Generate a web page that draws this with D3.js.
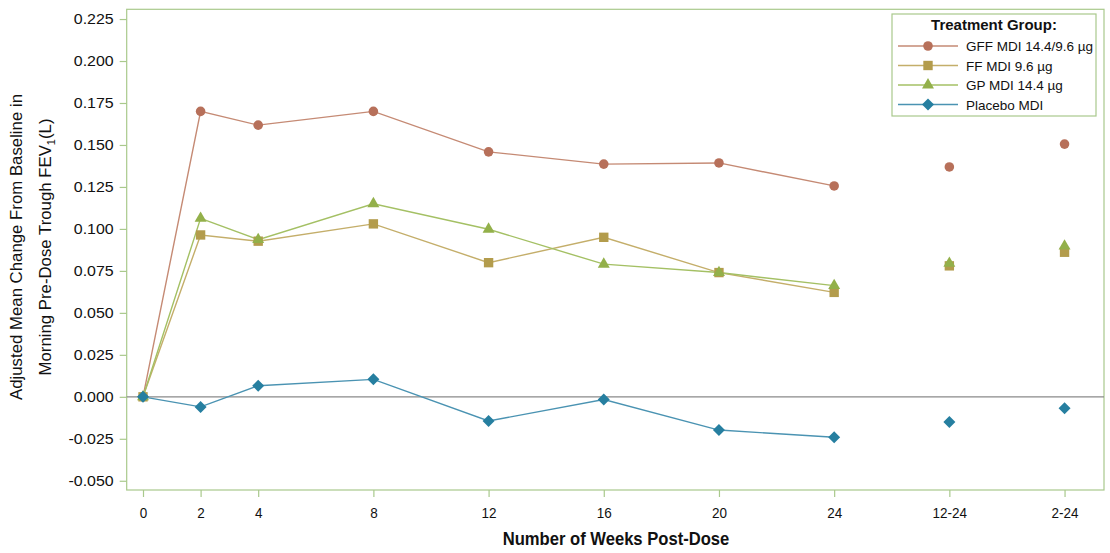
<!DOCTYPE html>
<html>
<head>
<meta charset="utf-8">
<script src="https://cdn.jsdelivr.net/npm/d3@7"></script>
<style>
  html, body { margin: 0; padding: 0; background: #fff; }
  svg { display: block; font-family: "Liberation Sans", Arial, sans-serif; }
</style>
</head>
<body>
<svg id="chart" width="1110" height="553"></svg>
<script>
// Visit labels along the x axis and their positions in weeks
const visitLabels = ["0", "2", "4", "8", "12", "16", "20", "24", "12-24", "2-24"];
const visitPos    = [0, 2, 4, 8, 12, 16, 20, 24, 28, 32];
// Visits joined by a line (the two summary periods are drawn as lone points)
const connectedCount = 8;

const yTicks = [-0.050, -0.025, 0.000, 0.025, 0.050, 0.075, 0.100, 0.125, 0.150, 0.175, 0.200, 0.225];

const seriesNames = ["GFF MDI 14.4/9.6 \u00b5g", "FF MDI 9.6 \u00b5g", "GP MDI 14.4 \u00b5g", "Placebo MDI"];

const gffValues     = [0, 0.1700, 0.1618, 0.1700, 0.1459, 0.1386, 0.1393, 0.1256, 0.1369, 0.1505];
const ffValues      = [0, 0.0964, 0.0927, 0.1030, 0.0799, 0.0950, 0.0740, 0.0622, 0.0780, 0.0861];
const gpValues      = [0, 0.1063, 0.0936, 0.1150, 0.0998, 0.0790, 0.0740, 0.0662, 0.0795, 0.0898];
const placeboValues = [0, -0.0060, 0.0066, 0.0104, -0.0144, -0.0016, -0.0198, -0.0241, -0.0150, -0.0068];

const seriesValues = [gffValues, ffValues, gpValues, placeboValues];
const markerColors = ["#b7705a", "#b39c4c", "#93b04a", "#267fa0"];
const lineColors   = ["#c58a74", "#c4ae6a", "#a4c064", "#4a93b2"];

// Marker shapes; the diamond is a square turned 45 degrees
const markerShapes = [
  { type: d3.symbolCircle,   size: 72, rotate: 0 },
  { type: d3.symbolSquare,   size: 88, rotate: 0 },
  { type: d3.symbolTriangle, size: 62, rotate: 0 },
  { type: d3.symbolSquare,   size: 72, rotate: 45 }
];

const svg = d3.select("#chart");
const frame = { left: 126.7, right: 1104, top: 9.3, bottom: 490 };

const x = d3.scaleLinear().domain([-0.566, 33.37]).range([frame.left, frame.right]);
const y = d3.scaleLinear().domain([-0.0555, 0.2308]).range([frame.bottom, frame.top]);

const frameColor = "#a9c98c";

function marker(sel, s) {
  const m = markerShapes[s];
  return sel.attr("d", d3.symbol().type(m.type).size(m.size)).attr("fill", markerColors[s]);
}

// Plot frame
svg.append("rect")
  .attr("x", frame.left).attr("y", frame.top)
  .attr("width", frame.right - frame.left).attr("height", frame.bottom - frame.top)
  .attr("fill", "none").attr("stroke", frameColor).attr("stroke-width", 1.2);

// Y axis (labels slightly widened)
const yAxis = svg.append("g")
  .attr("transform", `translate(${frame.left},0)`)
  .call(d3.axisLeft(y).tickValues(yTicks).tickFormat(d3.format(".3f")).tickSize(7).tickPadding(5));
yAxis.select(".domain").remove();
yAxis.selectAll(".tick line").attr("stroke", frameColor).attr("stroke-width", 1.2);
yAxis.selectAll(".tick text")
  .attr("fill", "#111").style("font-size", "14.5px")
  .attr("x", null).attr("transform", "translate(-13,0) scale(1.1,1)")
  .text(d => d3.format(".3f")(d).replace("\u2212", "-"));

// X axis
const xAxis = svg.append("g")
  .attr("transform", `translate(0,${frame.bottom})`)
  .call(d3.axisBottom(x).tickValues(visitPos)
    .tickFormat((d, i) => visitLabels[i]).tickSize(7).tickPadding(9));
xAxis.select(".domain").remove();
xAxis.selectAll(".tick line").attr("stroke", frameColor).attr("stroke-width", 1.2);
xAxis.selectAll(".tick text")
  .attr("fill", "#111").style("font-size", "15px")
  .attr("y", 0).attr("dy", null)
  .attr("transform", "translate(0,28) scale(0.9,1)");

// Zero reference line
svg.append("line")
  .attr("x1", frame.left).attr("x2", frame.right)
  .attr("y1", y(0)).attr("y2", y(0))
  .attr("stroke", "#8a8a8a").attr("stroke-width", 1.3);

// Series lines and markers
const plot = svg.append("g");
seriesValues.forEach((vals, s) => {
  const pts = vals.map((v, i) => ({ x: visitPos[i], y: v }));
  plot.append("path")
    .datum(pts.slice(0, connectedCount))
    .attr("d", d3.line().x(d => x(d.x)).y(d => y(d.y)))
    .attr("fill", "none").attr("stroke", lineColors[s]).attr("stroke-width", 1.4);
});
seriesValues.forEach((vals, s) => {
  const pts = vals.map((v, i) => ({ x: visitPos[i], y: v }));
  plot.selectAll(null).data(pts).enter().append("path")
    .attr("transform", d => `translate(${x(d.x)},${y(d.y)}) rotate(${markerShapes[s].rotate})`)
    .call(marker, s);
});

// Axis titles
svg.append("text")
  .attr("transform", "translate(616,545) scale(0.95,1)")
  .attr("text-anchor", "middle")
  .style("font-weight", "bold").style("font-size", "17.5px").attr("fill", "#111")
  .text("Number of Weeks Post-Dose");

const yTitle = svg.append("g").attr("transform", "translate(0,247) rotate(-90)");
yTitle.append("text")
  .attr("x", 0).attr("y", 22).attr("text-anchor", "middle")
  .style("font-size", "16.8px").attr("fill", "#111")
  .text("Adjusted Mean Change From Baseline in");
const t2 = yTitle.append("text")
  .attr("x", 0).attr("y", 51).attr("text-anchor", "middle")
  .style("font-size", "16.8px").attr("fill", "#111");
t2.append("tspan").text("Morning Pre-Dose Trough FEV");
t2.append("tspan").attr("dy", 4).style("font-size", "11px").text("1");
t2.append("tspan").attr("dy", -4).text("(L)");

// Legend
const legend = svg.append("g");
legend.append("rect")
  .attr("x", 892).attr("y", 14).attr("width", 204).attr("height", 102)
  .attr("fill", "#fff").attr("stroke", frameColor).attr("stroke-width", 1.2);
legend.append("text")
  .attr("x", 994).attr("y", 30).attr("text-anchor", "middle")
  .style("font-weight", "bold").style("font-size", "15px").attr("fill", "#111")
  .text("Treatment Group:");
seriesNames.forEach((name, s) => {
  const ly = 46 + s * 19.5;
  legend.append("line")
    .attr("x1", 898).attr("x2", 958).attr("y1", ly).attr("y2", ly)
    .attr("stroke", lineColors[s]).attr("stroke-width", 1.4);
  legend.append("path")
    .attr("transform", `translate(928,${ly}) rotate(${markerShapes[s].rotate})`)
    .call(marker, s);
  legend.append("text")
    .attr("x", 966).attr("y", ly + 5)
    .style("font-size", "13.5px").attr("fill", "#111")
    .text(name);
});
</script>
</body>
</html>
